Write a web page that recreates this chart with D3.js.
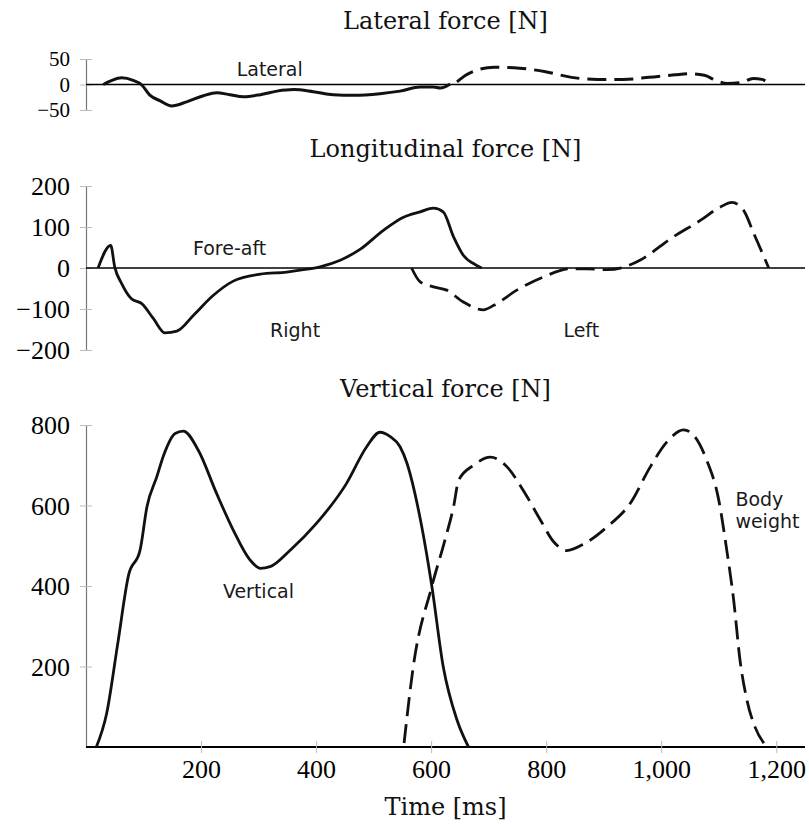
<!DOCTYPE html>
<html>
<head>
<meta charset="utf-8">
<script src="https://cdn.jsdelivr.net/npm/d3@7"></script>
<style>
  body { margin: 0; background: #fff; }
  svg { display: block; }
</style>
</head>
<body>
<div id="chart"></div>
<script>
// time axis (ms)
const timeTicks = [200, 400, 600, 800, 1000, 1200]

// lateral force [N]
const latRightT = [30, 45, 62, 82, 97, 111, 129, 149, 175, 204, 227, 250, 274, 303, 332, 361, 395, 430, 465, 511, 546, 581, 604, 616, 633]
const latRightF = [0, 8, 13, 8, -1, -21, -32, -42, -34, -22, -16, -20, -24, -20, -13, -10, -14, -20, -21, -18, -13, -5, -5, -7, 1]
const latLeftT = [645, 660, 682, 710, 754, 799, 844, 889, 934, 979, 1024, 1048, 1075, 1095, 1115, 1140, 1160, 1175, 1188]
const latLeftF = [5, 18, 29, 34, 32, 25, 14, 10, 10, 14, 19, 21, 18, 8, 2, 4, 12, 10, 2]
const latTicks = [-50, 0, 50]

// longitudinal (fore-aft) force [N]
const lonRightT = [21, 43, 50, 62, 79, 97, 117, 137, 158, 187, 221, 256, 303, 349, 384, 407, 442, 477, 517, 552, 581, 604, 621, 639, 656, 677, 688]
const lonRightF = [0, 55, 2, -38, -75, -87, -123, -158, -154, -115, -67, -32, -15, -10, -3, 3, 19, 46, 92, 124, 137, 146, 137, 76, 31, 8, 0]
const lonLeftT = [566, 581, 604, 627, 656, 691, 709, 749, 795, 842, 871, 906, 935, 963, 1021, 1068, 1103, 1123, 1143, 1161, 1175, 1187]
const lonLeftF = [0, -34, -46, -54, -83, -102, -91, -54, -22, -2, -2, -4, 2, 19, 76, 116, 149, 160, 141, 84, 39, 0]
const lonTicks = [-200, -100, 0, 100, 200]

// vertical force [N]
const verRightT = [18, 36, 55, 74, 94, 106, 123, 135, 155, 169, 195, 227, 256, 285, 303, 320, 355, 401, 453, 488, 511, 529, 546, 558, 578, 601, 621, 645, 665]
const verRightF = [0, 84, 255, 427, 489, 597, 671, 725, 779, 785, 738, 630, 539, 465, 444, 448, 489, 556, 655, 746, 782, 771, 746, 705, 589, 402, 200, 67, 0]
const verLeftT = [553, 569, 601, 624, 639, 648, 674, 703, 732, 760, 790, 813, 836, 865, 906, 946, 981, 1010, 1039, 1056, 1079, 1100, 1114, 1126, 1137, 1149, 1163, 1181]
const verLeftF = [10, 200, 398, 514, 597, 663, 700, 720, 696, 638, 564, 510, 488, 504, 547, 605, 696, 758, 788, 775, 713, 614, 489, 365, 216, 117, 50, 5]
const verTicks = [200, 400, 600, 800]

const zip = (ts, fs) => ts.map((t, i) => [t, fs[i]])

const width = 809
const height = 825
const left = 86
const right = 805

const svg = d3.select('#chart').append('svg')
  .attr('width', width)
  .attr('height', height)

const x = d3.scaleLinear().domain([0, 1250]).range([left, right])

const tickFont = 'Liberation Serif, Times New Roman, serif'
const titleFont = 'DejaVu Serif, serif'
const noteFont = 'DejaVu Sans, sans-serif'

// one stacked panel: title, y axis, baseline, two curves, notes
function panel (opt) {
  const y = d3.scaleLinear().domain(opt.domain).range(opt.range)
  const g = svg.append('g')

  svg.append('text')
    .attr('x', (left + right) / 2)
    .attr('y', opt.titleY)
    .attr('text-anchor', 'middle')
    .attr('font-family', titleFont)
    .attr('font-size', 24)
    .attr('fill', '#111')
    .text(opt.title)

  const yAxis = g.append('g')
    .attr('transform', `translate(${left},0)`)
    .call(d3.axisLeft(y).tickValues(opt.ticks).tickSize(6).tickSizeOuter(0))
  yAxis.select('.domain').attr('stroke', '#777').attr('stroke-width', 1.2)
  yAxis.selectAll('.tick line').attr('x1', -6).attr('x2', 6).attr('stroke', '#bbb')
  yAxis.selectAll('.tick text')
    .attr('x', -16)
    .attr('dy', '0.33em')
    .attr('font-family', tickFont)
    .attr('font-size', opt.tickSize || 26)
    .attr('fill', '#000')

  // baseline through zero
  g.append('line')
    .attr('x1', x(0)).attr('x2', x(1250))
    .attr('y1', y(0)).attr('y2', y(0))
    .attr('stroke', '#000')
    .attr('stroke-width', opt.baseWidth || 1.6)

  const line = d3.line()
    .x(d => x(d[0]))
    .y(d => y(d[1]))
    .curve(d3.curveMonotoneX)

  g.append('path')
    .datum(opt.right)
    .attr('d', line)
    .attr('fill', 'none')
    .attr('stroke', '#111')
    .attr('stroke-width', opt.strokeWidth || 2.8)
    .attr('stroke-linejoin', 'round')

  g.append('path')
    .datum(opt.left)
    .attr('d', line)
    .attr('fill', 'none')
    .attr('stroke', '#111')
    .attr('stroke-width', opt.strokeWidth || 2.8)
    .attr('stroke-dasharray', '19,8')

  opt.notes.forEach(n => {
    g.append('text')
      .attr('x', x(n.t))
      .attr('y', y(n.f))
      .attr('font-family', noteFont)
      .attr('font-size', 19)
      .attr('fill', '#1a1a1a')
      .text(n.text)
  })
  return { g, y }
}

panel({
  title: 'Lateral force [N]',
  titleY: 29,
  domain: [-50, 50],
  range: [110, 59],
  ticks: latTicks,
  tickSize: 21,
  right: zip(latRightT, latRightF),
  left: zip(latLeftT, latLeftF),
  strokeWidth: 3,
  notes: [{ text: 'Lateral', t: 262, f: 16 }]
})

panel({
  title: 'Longitudinal force [N]',
  titleY: 157,
  domain: [-200, 200],
  range: [350, 186],
  ticks: lonTicks,
  right: zip(lonRightT, lonRightF),
  left: zip(lonLeftT, lonLeftF),
  notes: [
    { text: 'Fore-aft', t: 186, f: 31 },
    { text: 'Right', t: 320, f: -168 },
    { text: 'Left', t: 830, f: -168 }
  ]
})

const bottom = panel({
  title: 'Vertical force [N]',
  titleY: 397,
  domain: [0, 800],
  range: [747, 425],
  ticks: verTicks,
  right: zip(verRightT, verRightF),
  left: zip(verLeftT, verLeftF),
  baseWidth: 1.8,
  notes: [
    { text: 'Vertical', t: 238, f: 370 },
    { text: 'Body', t: 1129, f: 599 },
    { text: 'weight', t: 1129, f: 544 }
  ]
})

// time axis under the vertical panel
const xAxis = bottom.g.append('g')
  .attr('transform', `translate(0,${bottom.y(0)})`)
  .call(d3.axisBottom(x).tickValues(timeTicks).tickSize(6).tickSizeOuter(0).tickFormat(d3.format(',')))
xAxis.select('.domain').remove()
xAxis.selectAll('.tick line').attr('y1', -6).attr('y2', 6).attr('stroke', '#bbb')
xAxis.selectAll('.tick text')
  .attr('y', 31)
  .attr('dy', 0)
  .attr('font-family', tickFont)
  .attr('font-size', 26)
  .attr('fill', '#000')

svg.append('text')
  .attr('x', (left + right) / 2)
  .attr('y', 815)
  .attr('text-anchor', 'middle')
  .attr('font-family', titleFont)
  .attr('font-size', 24)
  .attr('fill', '#111')
  .text('Time [ms]')
</script>
</body>
</html>
